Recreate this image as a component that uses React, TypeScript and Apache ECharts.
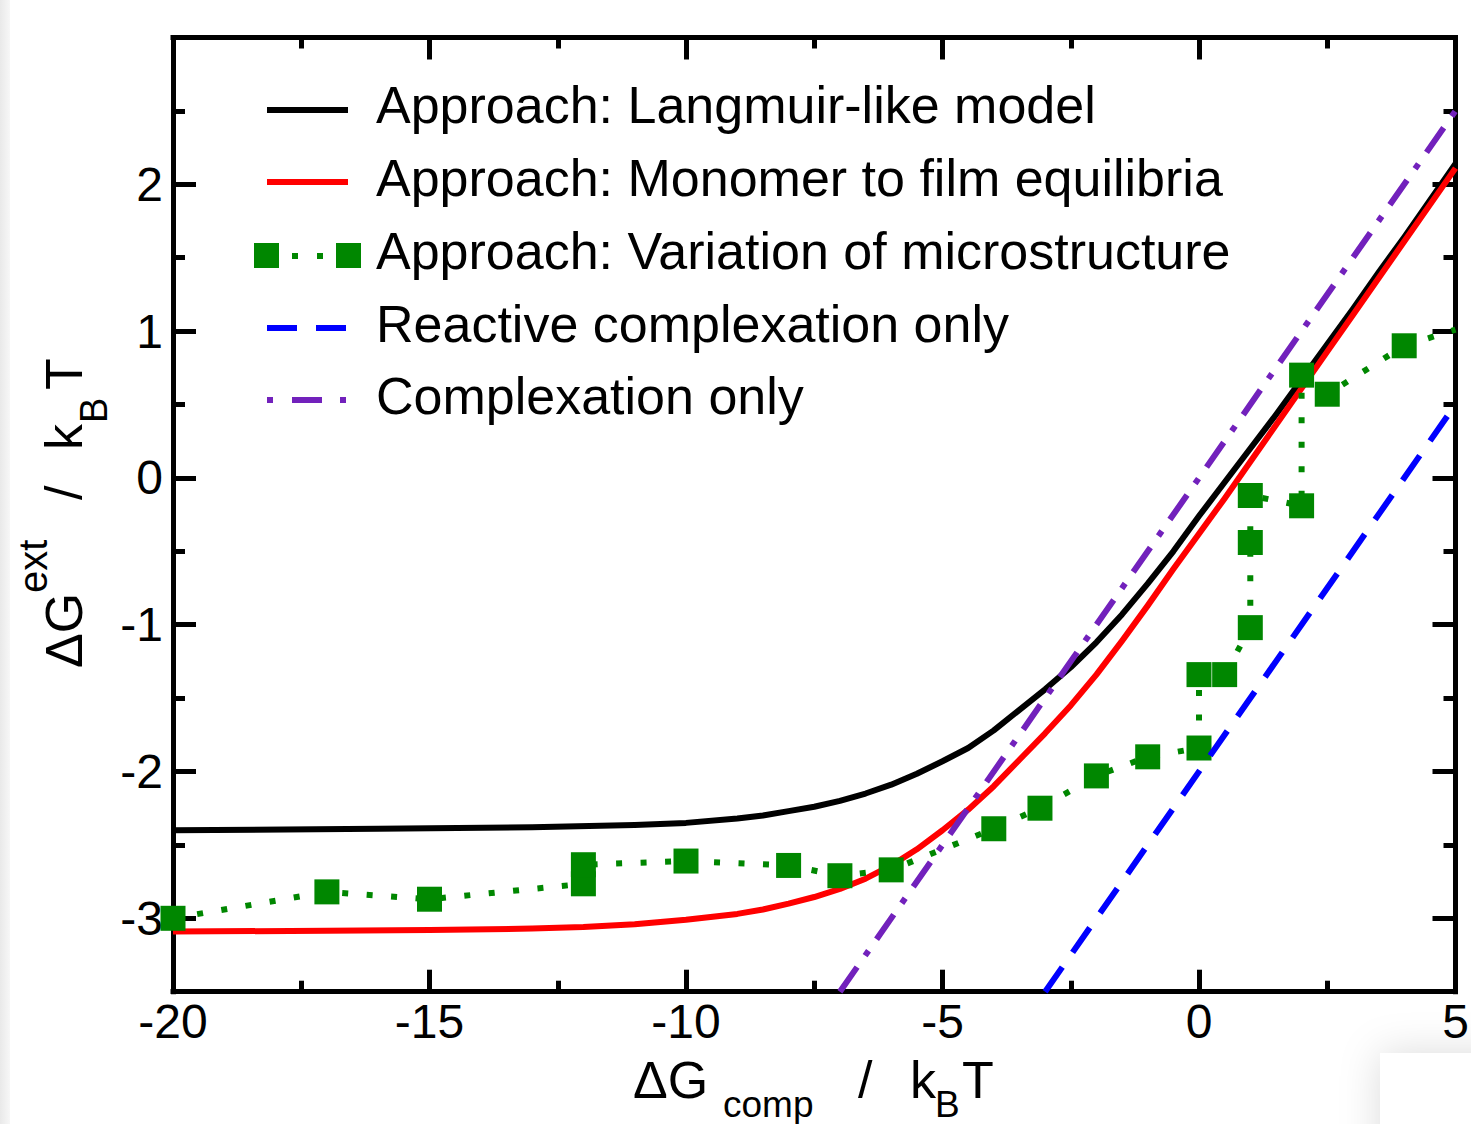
import React, { useEffect, useRef } from "react";
import * as echarts from "echarts";

const FONT = '"Liberation Sans", Arial, Helvetica, sans-serif';

// ---- data ----
const xRange = [-20, 5];
const yRange = [-3.5, 3];
const xTickStep = 5;
const yMajorTicks = [-3, -2, -1, 0, 1, 2];
const yMinorStep = 0.5;

const langmuirCurve: [number, number][] = [
  [-20, -2.4], [-16, -2.39], [-13, -2.38], [-11, -2.365], [-10, -2.35],
  [-9, -2.32], [-8.5, -2.3], [-8, -2.27], [-7.5, -2.24], [-7, -2.2],
  [-6.5, -2.15], [-6, -2.09], [-5.5, -2.015], [-5, -1.93],
  [-4.5, -1.84], [-4, -1.72], [-3.5, -1.58], [-3, -1.44], [-2.5, -1.29],
  [-2, -1.12], [-1.5, -0.93], [-1, -0.72], [-0.5, -0.5], [0, -0.26],
  [0.5, -0.03], [1, 0.2], [1.5, 0.43], [2, 0.67], [2.5, 0.91],
  [3, 1.15], [3.5, 1.4], [4, 1.64], [4.5, 1.89], [5, 2.14],
];

const monomerFilmCurve: [number, number][] = [
  [-20, -3.09], [-17, -3.085], [-15, -3.08], [-13, -3.07], [-12, -3.06],
  [-11, -3.04], [-10, -3.01], [-9, -2.97], [-8.5, -2.94], [-8, -2.9],
  [-7.5, -2.855], [-7, -2.8], [-6.5, -2.73], [-6, -2.64], [-5.5, -2.53],
  [-5, -2.4], [-4.5, -2.26], [-4, -2.1], [-3.5, -1.92], [-3, -1.74],
  [-2.5, -1.55], [-2, -1.34], [-1.5, -1.11], [-1, -0.87], [-0.5, -0.62],
  [0, -0.38], [0.5, -0.14], [1, 0.11], [1.5, 0.36], [2, 0.61],
  [2.5, 0.86], [3, 1.11], [3.5, 1.36], [4, 1.61], [4.5, 1.86], [5, 2.11],
];

const microstructurePoints: [number, number][] = [
  [-20, -3.0], [-17, -2.82], [-15, -2.87], [-12, -2.765], [-12, -2.635],
  [-10, -2.61], [-8, -2.64], [-7, -2.71], [-6, -2.67], [-4, -2.39],
  [-3.1, -2.25], [-2, -2.03], [-1, -1.9], [0, -1.84], [0, -1.34],
  [0.5, -1.34], [1, -1.02], [1, -0.44], [1, -0.12], [2, -0.19],
  [2, 0.7], [2.5, 0.57], [4, 0.9],
];
const microstructureTail: [number, number] = [5, 1.01];

const reactiveComplexation: [number, number][] = [[-3, -3.5], [5, 0.5]];
const complexationOnly: [number, number][] = [[-7, -3.5], [5, 2.5]];

const legendLabels = [
  "Approach: Langmuir-like model",
  "Approach: Monomer to film equilibria",
  "Approach: Variation of microstructure",
  "Reactive complexation only",
  "Complexation only",
];

const COLORS = {
  black: "#000000",
  red: "#ff0000",
  green: "#008700",
  blue: "#0000ff",
  purple: "#7221bc",
};

function buildOption() {
  const axisLineStyle = { color: "#000", width: 5, cap: "square" as const };
  const tickStyle = { color: "#000", width: 5 };
  const labelStyle = {
    color: "#000",
    fontSize: 48,
    fontFamily: FONT,
  };

  const xBase = {
    type: "value" as const,
    min: xRange[0],
    max: xRange[1],
    interval: xTickStep,
    splitLine: { show: false },
    minorSplitLine: { show: false },
    axisLine: { show: true, onZero: false, lineStyle: axisLineStyle },
    axisTick: { show: true, inside: true, length: 22, lineStyle: tickStyle },
    minorTick: { show: true, splitNumber: 2, length: 11, lineStyle: tickStyle },
  };

  const yMajor = (pos: "left" | "right", labels: boolean) => ({
    type: "value" as const,
    position: pos,
    min: yRange[0],
    max: yRange[1],
    splitLine: { show: false },
    axisLine: { show: true, onZero: false, lineStyle: axisLineStyle },
    axisTick: {
      show: true,
      inside: true,
      length: 23,
      customValues: yMajorTicks,
      lineStyle: tickStyle,
    },
    axisLabel: labels
      ? { show: true, customValues: yMajorTicks, margin: 10, ...labelStyle }
      : { show: false },
  });

  const yMinor = (pos: "left" | "right") => ({
    type: "value" as const,
    position: pos,
    min: yRange[0],
    max: yRange[1],
    interval: yMinorStep,
    splitLine: { show: false },
    axisLine: { show: false, onZero: false },
    axisTick: { show: true, inside: true, length: 12, lineStyle: tickStyle },
    axisLabel: { show: false },
  });

  const lx = 376;
  const legendY = [105, 178, 251, 324, 396];
  const legendTexts = legendLabels.map((t, i) => ({
    type: "text",
    x: lx,
    y: legendY[i],
    z: 100,
    style: {
      text: t,
      fill: "#000",
      fontSize: 52,
      fontFamily: FONT,
      align: "left",
      verticalAlign: "middle",
    },
  }));

  const rect = (x: number, y: number, w: number, h: number, fill: string) => ({
    type: "rect",
    z: 100,
    shape: { x, y, width: w, height: h },
    style: { fill },
  });

  const legendMarks = [
    rect(267, 107, 81, 6, COLORS.black),
    rect(267, 179, 81, 6, COLORS.red),
    rect(254, 243, 25, 25, COLORS.green),
    rect(336, 243, 25, 25, COLORS.green),
    rect(292, 253, 6, 6, COLORS.green),
    rect(317, 253, 6, 6, COLORS.green),
    rect(267, 325, 30, 6, COLORS.blue),
    rect(316, 325, 30, 6, COLORS.blue),
    rect(267, 397, 6, 6, COLORS.purple),
    rect(292, 397, 30, 6, COLORS.purple),
    rect(340, 397, 6, 6, COLORS.purple),
  ];

  const txt = (text: string, x: number, y: number, size: number) => ({
    type: "text",
    x,
    y,
    z: 100,
    style: {
      text,
      fill: "#000",
      fontSize: size,
      fontFamily: FONT,
      align: "left",
      verticalAlign: "middle",
    },
  });

  const xName = [
    txt("ΔG", 633, 1080, 52),
    txt("comp", 723, 1104, 37),
    txt("/", 858, 1080, 52),
    txt("k", 910, 1080, 52),
    txt("B", 935, 1104, 37),
    txt("T", 962, 1080, 52),
  ];

  const yName = {
    type: "group",
    x: 0,
    y: 0,
    rotation: Math.PI / 2,
    z: 100,
    children: [
      txt("ΔG", -668, 64, 52),
      txt("ext", -593, 33, 40),
      txt("/", -500, 64, 52),
      txt("k", -450, 64, 52),
      txt("B", -423, 94, 38),
      txt("T", -390, 64, 52),
    ],
  };

  const decorations = [
    {
      type: "rect",
      z: -10,
      shape: { x: 0, y: 0, width: 10, height: 1124 },
      style: {
        fill: new echarts.graphic.LinearGradient(0, 0, 1, 0, [
          { offset: 0, color: "#e9e9e9" },
          { offset: 1, color: "#f7f7f7" },
        ]),
      },
    },
    {
      type: "rect",
      z: 50,
      shape: { x: 1380, y: 1053, width: 200, height: 200 },
      style: {
        fill: "#ffffff",
        shadowBlur: 40,
        shadowColor: "rgba(0,0,0,0.14)",
      },
    },
  ];

  return {
    animation: false,
    backgroundColor: "#ffffff",
    textStyle: { fontFamily: FONT },
    grid: {
      left: 173,
      right: 15.5,
      top: 37.5,
      bottom: 132.3,
      containLabel: false,
      outerBoundsMode: "none",
    },
    xAxis: [
      {
        ...xBase,
        position: "bottom",
        axisLabel: {
          show: true,
          margin: 6,
          showMinLabel: true,
          showMaxLabel: true,
          ...labelStyle,
        },
      },
      { ...xBase, position: "top", axisLabel: { show: false } },
    ],
    yAxis: [
      yMajor("left", true),
      yMinor("left"),
      yMajor("right", false),
      yMinor("right"),
    ],
    series: [
      {
        name: legendLabels[0],
        type: "line",
        xAxisIndex: 0,
        yAxisIndex: 0,
        data: langmuirCurve,
        symbol: "none",
        smooth: false,
        silent: true,
        lineStyle: { color: COLORS.black, width: 6, join: "round" },
        z: 2,
      },
      {
        name: legendLabels[1],
        type: "line",
        xAxisIndex: 0,
        yAxisIndex: 0,
        data: monomerFilmCurve,
        symbol: "none",
        smooth: false,
        silent: true,
        lineStyle: { color: COLORS.red, width: 6, join: "round" },
        z: 3,
      },
      {
        name: legendLabels[2],
        type: "line",
        xAxisIndex: 0,
        yAxisIndex: 0,
        data: [
          ...microstructurePoints,
          { value: microstructureTail, symbol: "none" },
        ],
        symbol: "rect",
        symbolSize: 25,
        showAllSymbol: true,
        silent: true,
        itemStyle: { color: COLORS.green },
        lineStyle: { color: COLORS.green, width: 6, type: [6, 18.5] },
        z: 4,
      },
      {
        name: legendLabels[3],
        type: "line",
        xAxisIndex: 0,
        yAxisIndex: 0,
        data: reactiveComplexation,
        symbol: "none",
        silent: true,
        lineStyle: { color: COLORS.blue, width: 6, type: [30, 18] },
        z: 5,
      },
      {
        name: legendLabels[4],
        type: "line",
        xAxisIndex: 0,
        yAxisIndex: 0,
        data: complexationOnly,
        symbol: "none",
        silent: true,
        lineStyle: { color: COLORS.purple, width: 6, type: [30, 14, 6, 14] },
        z: 6,
      },
    ],
    graphic: [...decorations, ...legendMarks, ...legendTexts, ...xName, yName],
  };
}

export default function App() {
  const ref = useRef<HTMLDivElement | null>(null);
  useEffect(() => {
    if (!ref.current) return;
    const chart = echarts.init(ref.current, undefined, { renderer: "svg" });
    chart.setOption(buildOption() as any);
    return () => chart.dispose();
  }, []);
  return (
    <div
      ref={ref}
      style={{
        position: "absolute",
        left: 0,
        top: 0,
        width: 1471,
        height: 1124,
        background: "#fff",
      }}
    />
  );
}
